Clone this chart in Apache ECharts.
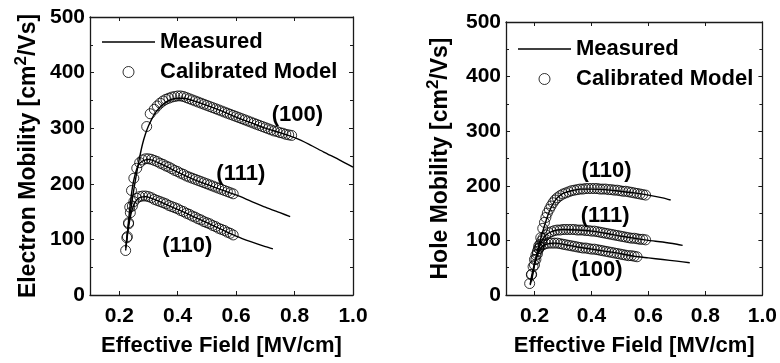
<!DOCTYPE html>
<html><head><meta charset="utf-8">
<script src="https://cdn.jsdelivr.net/npm/echarts@6/dist/echarts.min.js"></script>
<style>html,body{margin:0;padding:0;background:#fff}#c{width:780px;height:363px}</style>
</head><body><div id="c"></div>
<script>
// ---- tick labels ----
const xTicks = [0.2, 0.4, 0.6, 0.8, 1.0];
const yTicks = [0, 100, 200, 300, 400, 500];

// ---- Electron mobility: measured curves ----
const eMeas100 = [[0.222,85],[0.23,120],[0.24,155],[0.25,190],[0.26,220],[0.27,248],[0.28,272],[0.29,290],[0.30,304],[0.31,315],[0.32,325],[0.34,338],[0.36,347],[0.38,352],[0.40,354],[0.42,354],[0.45,350],[0.50,341],[0.55,331],[0.60,320],[0.65,310],[0.70,300],[0.75,292],[0.80,283],[0.85,271],[0.90,257],[0.95,244],[1.00,230]];
const eMeas111 = [[0.225,95],[0.235,150],[0.245,193],[0.255,218],[0.265,233],[0.28,241],[0.30,244],[0.35,234],[0.40,221],[0.45,209],[0.50,199],[0.55,189],[0.60,180],[0.65,169],[0.70,158],[0.75,148],[0.785,141]];
const eMeas110 = [[0.222,80],[0.23,115],[0.24,145],[0.25,162],[0.26,171],[0.27,175],[0.29,177],[0.32,172],[0.36,163],[0.40,154],[0.45,142],[0.50,130],[0.55,118],[0.60,106],[0.65,96],[0.70,87],[0.726,83]];

// ---- Electron mobility: calibrated model points ----
const eCal100 = [[0.294,303],[0.306,326],[0.32,334],[0.33,340],[0.34,345],[0.35,349],[0.36,352],[0.37,354],[0.38,356],[0.39,357],[0.40,358],[0.41,358],[0.42,357],[0.43,355],[0.44,353],[0.45,351],[0.46,349],[0.47,347],[0.48,345],[0.49,343],[0.50,341],[0.51,339],[0.52,337],[0.53,335],[0.54,333],[0.55,331],[0.56,329],[0.57,327],[0.58,325],[0.59,323],[0.60,321],[0.61,319],[0.62,317],[0.63,315],[0.64,313],[0.65,311],[0.66,309],[0.67,307],[0.68,305],[0.69,303],[0.70,301],[0.71,299],[0.72,297],[0.73,295],[0.74,294],[0.75,292],[0.76,291],[0.77,289],[0.78,288],[0.79,287]];
const eCal111 = [[0.228,105],[0.232,130],[0.236,158],[0.242,188],[0.25,210],[0.26,228],[0.27,238],[0.28,243],[0.29,245],[0.30,245],[0.31,244],[0.32,242],[0.33,240],[0.34,237],[0.35,235],[0.36,232],[0.37,230],[0.38,227],[0.39,224],[0.40,222],[0.41,219],[0.42,217],[0.43,214],[0.44,212],[0.45,210],[0.46,208],[0.47,206],[0.48,204],[0.49,202],[0.50,200],[0.51,198],[0.52,196],[0.53,194],[0.54,192],[0.55,190],[0.56,188],[0.57,186],[0.58,184],[0.59,182]];
const eCal110 = [[0.222,80],[0.226,103],[0.232,128],[0.238,148],[0.245,160],[0.25,168],[0.26,174],[0.27,177],[0.28,178],[0.29,178],[0.30,177],[0.31,175],[0.32,172],[0.33,170],[0.34,168],[0.35,166],[0.36,164],[0.37,161],[0.38,159],[0.39,157],[0.40,155],[0.41,152],[0.42,150],[0.43,147],[0.44,145],[0.45,142],[0.46,140],[0.47,137],[0.48,135],[0.49,132],[0.50,130],[0.51,128],[0.52,125],[0.53,123],[0.54,120],[0.55,118],[0.56,116],[0.57,113],[0.58,111],[0.59,108]];

// ---- Hole mobility: measured curves ----
const hMeas110 = [[0.19,25],[0.20,55],[0.21,80],[0.22,100],[0.23,118],[0.24,135],[0.25,150],[0.26,162],[0.27,171],[0.28,178],[0.30,186],[0.33,191],[0.36,194],[0.40,194],[0.45,193],[0.50,190],[0.55,187],[0.60,183],[0.65,178],[0.678,174]];
const hMeas111 = [[0.185,20],[0.19,35],[0.20,58],[0.21,76],[0.22,92],[0.23,103],[0.24,110],[0.26,116],[0.28,119],[0.30,120],[0.35,119],[0.40,117],[0.45,113],[0.50,108],[0.55,104],[0.60,100],[0.65,97],[0.70,93],[0.72,91]];
const hMeas100 = [[0.185,18],[0.19,30],[0.20,55],[0.21,72],[0.22,84],[0.23,90],[0.25,94],[0.27,95],[0.30,93],[0.35,88],[0.40,84],[0.45,80],[0.50,76],[0.55,71],[0.60,68],[0.65,65],[0.70,62],[0.745,59]];

// ---- Hole mobility: calibrated model points ----
const hCal110 = [[0.215,90],[0.222,105],[0.229,122],[0.235,133],[0.24,142],[0.245,150],[0.252,157],[0.258,163],[0.265,169],[0.272,174],[0.28,178],[0.29,182],[0.30,185],[0.31,187],[0.32,189],[0.33,191],[0.34,192],[0.35,193],[0.36,194],[0.37,194],[0.38,195],[0.39,195],[0.40,195],[0.41,195],[0.42,195],[0.43,194],[0.44,194],[0.45,194],[0.46,193],[0.47,193],[0.48,192],[0.49,192],[0.50,191],[0.51,190],[0.52,190],[0.53,189],[0.54,188],[0.55,187],[0.56,186],[0.57,185],[0.58,184],[0.59,183]];
const hCal111 = [[0.19,38],[0.20,55],[0.205,65],[0.21,75],[0.215,85],[0.22,93],[0.225,99],[0.23,104],[0.24,110],[0.25,114],[0.26,116],[0.27,118],[0.28,119],[0.29,119],[0.30,120],[0.31,120],[0.32,120],[0.33,120],[0.34,120],[0.35,119],[0.36,119],[0.37,119],[0.38,118],[0.39,118],[0.40,117],[0.41,117],[0.42,116],[0.43,115],[0.44,114],[0.45,113],[0.46,112],[0.47,111],[0.48,110],[0.49,109],[0.50,108],[0.51,107],[0.52,106],[0.53,105],[0.54,104],[0.55,104],[0.56,103],[0.57,102],[0.58,102],[0.59,101]];
const hCal100 = [[0.183,21],[0.189,37],[0.195,52],[0.20,65],[0.205,73],[0.21,80],[0.215,85],[0.22,89],[0.23,92],[0.24,94],[0.25,95],[0.26,95],[0.27,95],[0.28,95],[0.29,94],[0.30,93],[0.31,92],[0.32,91],[0.33,90],[0.34,89],[0.35,88],[0.36,87],[0.37,86],[0.38,86],[0.39,85],[0.40,84],[0.41,84],[0.42,83],[0.43,82],[0.44,81],[0.45,80],[0.46,79],[0.47,78],[0.48,77],[0.49,76],[0.50,75],[0.51,74],[0.52,73],[0.53,72],[0.54,72],[0.55,71],[0.56,70]];

// ---- curve labels ----
const eLabelText = ['(100)', '(111)', '(110)'];
const eLabelPos = [[0.81,323],[0.616,218],[0.433,89]];
const hLabelText = ['(110)', '(111)', '(100)'];
const hLabelPos = [[0.453,227],[0.448,145],[0.419,46]];

const legendNames = ['Measured', 'Calibrated Model'];

const FONT = "'Liberation Sans', Arial, Helvetica, sans-serif";
const AX = '#1a1a1a';

function xAxes(gi) {
  const base = {
    type: 'value', gridIndex: gi, min: 0.1, max: 1.0,
    axisLine: { show: true, onZero: false, lineStyle: { color: AX, width: 1.3 } },
    splitLine: { show: false },
    axisTick: { show: true, inside: true, length: 4, customValues: xTicks, lineStyle: { color: AX, width: 1 } },
  };
  return [
    Object.assign({}, base, {
      position: 'bottom',
      axisLabel: { show: true, customValues: xTicks, margin: 11, color: '#000', fontSize: 21, fontWeight: 'bold', fontFamily: FONT, formatter: v => v.toFixed(1) },
      name: 'Effective Field [MV/cm]', nameLocation: 'middle', nameGap: 40,
      nameTextStyle: { color: '#000', fontSize: 22, fontWeight: 'bold', fontFamily: FONT }
    }),
    Object.assign({}, base, { position: 'top', axisLabel: { show: false } })
  ];
}
function yAxes(gi, name, gap) {
  const base = {
    type: 'value', gridIndex: gi, min: 0, max: 500, interval: 100,
    axisLine: { show: true, onZero: false, lineStyle: { color: AX, width: 1.3 } },
    splitLine: { show: false },
    axisTick: { show: true, inside: true, length: 4, lineStyle: { color: AX, width: 1 } },
    minorTick: { show: true, splitNumber: 2, length: 3, lineStyle: { color: AX, width: 1 } },
  };
  return [
    Object.assign({}, base, {
      position: 'left',
      axisLabel: { show: true, margin: 5, color: '#000', fontSize: 21, fontWeight: 'bold', fontFamily: FONT },
      name: name, nameLocation: 'middle', nameGap: gap,
      nameTextStyle: { color: '#000', fontSize: 23, fontWeight: 'bold', fontFamily: FONT,
        rich: { sup: { fontSize: 17, fontWeight: 'bold', fontFamily: FONT, color: '#000', verticalAlign: 'bottom', padding: [0, 0, 15, 0] } } }
    }),
    Object.assign({}, base, { position: 'right', axisLabel: { show: false } })
  ];
}

function lineS(data, xi, yi) {
  return { type: 'line', name: 'Measured', xAxisIndex: xi, yAxisIndex: yi, data: data,
    symbol: 'none', showSymbol: false, smooth: 0.25, lineStyle: { color: '#000', width: 1.4 }, itemStyle: { color: '#000' }, z: 3, silent: true };
}
function calS(data, xi, yi) {
  return { type: 'scatter', name: 'Calibrated Model', xAxisIndex: xi, yAxisIndex: yi, data: data,
    symbol: 'circle', symbolSize: 10, itemStyle: { color: 'rgba(255,255,255,0)', borderColor: '#000', borderWidth: 1 }, z: 4, silent: true };
}
function labelS(texts, pos, xi, yi) {
  return { type: 'scatter', name: 'labels', xAxisIndex: xi, yAxisIndex: yi,
    data: texts.map((t, i) => ({ name: t, value: pos[i] })),
    symbolSize: 0, itemStyle: { color: '#000', opacity: 1 }, silent: true, z: 6,
    label: { show: true, position: 'inside', formatter: '{b}', color: '#000', opacity: 1, textBorderWidth: 0, fontSize: 22, fontWeight: 'bold', fontFamily: FONT } };
}

const legendBase = {
  orient: 'vertical',
  data: [
    { name: legendNames[0], icon: 'path://M0,0L53,0L53,1.5L0,1.5Z', itemStyle: { color: '#000' } },
    { name: legendNames[1], itemStyle: { color: 'rgba(255,255,255,0)', borderColor: '#000', borderWidth: 1 } }
  ],
  itemWidth: 53, itemHeight: 11, itemGap: 8, symbolKeepAspect: true,
  textStyle: { color: '#000', fontSize: 22, fontWeight: 'bold', fontFamily: FONT },
  selectedMode: false, padding: 0
};

const chart = echarts.init(document.getElementById('c'), null, { renderer: 'canvas' });
chart.setOption({
  animation: false,
  backgroundColor: '#fff',
  grid: [
    { left: 90, top: 17, width: 263, height: 278 },
    { left: 506, top: 22, width: 261, height: 273 }
  ],
  xAxis: xAxes(0).concat(xAxes(1)),
  yAxis: yAxes(0, 'Electron Mobility [cm{sup|2}/Vs]', 45).concat(yAxes(1, 'Hole Mobility [cm{sup|2}/Vs]', 49)),
  legend: [
    Object.assign({}, legendBase, { left: 102, top: 31 }),
    Object.assign({}, legendBase, { left: 518, top: 38 })
  ],
  series: [
    lineS(eMeas100, 0, 0), lineS(eMeas111, 0, 0), lineS(eMeas110, 0, 0),
    calS(eCal100, 0, 0), calS(eCal111, 0, 0), calS(eCal110, 0, 0),
    labelS(eLabelText, eLabelPos, 0, 0),
    lineS(hMeas110, 2, 2), lineS(hMeas111, 2, 2), lineS(hMeas100, 2, 2),
    calS(hCal110, 2, 2), calS(hCal111, 2, 2), calS(hCal100, 2, 2),
    labelS(hLabelText, hLabelPos, 2, 2)
  ]
});
</script>
</body></html>
